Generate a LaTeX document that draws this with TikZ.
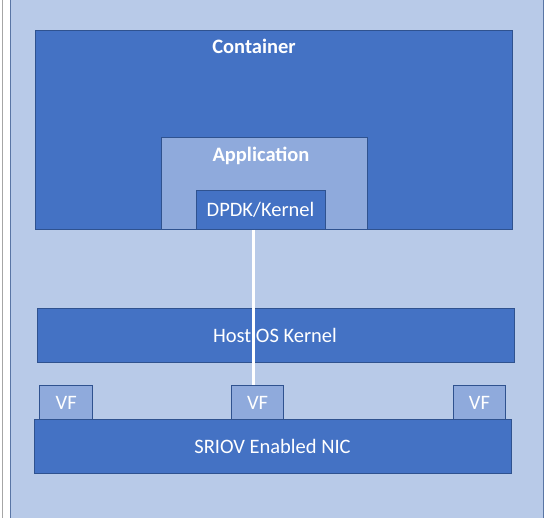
\documentclass[tikz,border=0pt]{standalone}
\usepackage{fontspec}
\setmainfont{Carlito}
\definecolor{bglight}{HTML}{B8CAE8}
\definecolor{darkfill}{HTML}{4472C4}
\definecolor{midfill}{HTML}{8FAADC}
\definecolor{edgeblue}{HTML}{2F528F}
\begin{document}
\begin{tikzpicture}[x=1pt,y=-1pt,
  darkbox/.style={draw=edgeblue, line width=0.9pt, fill=darkfill, inner sep=0pt, anchor=north west},
  midbox/.style={draw=edgeblue, line width=0.9pt, fill=midfill, inner sep=0pt, anchor=north west},
  boldtext/.style={text=white, font=\fontsize{20.5}{24}\selectfont\bfseries, inner sep=0pt, anchor=base},
  plaintext/.style={text=white, font=\fontsize{20.5}{24}\selectfont, inner sep=0pt, anchor=base},
  link/.style={draw=white, line width=3pt}]
\useasboundingbox (0,0) rectangle (550,518);
\fill[white] (0,0) rectangle (550,518);
\draw[gray!70, line width=0.8pt] (2,0) -- (2,518);
\node[draw=edgeblue!80, line width=0.8pt, fill=bglight, inner sep=0pt, anchor=north west,
  minimum width=533.5, minimum height=520] (bg) at (9.5,-1) {};
% container
\node[darkbox, minimum width=477, minimum height=199] (container) at (35,30) {};
\node[boldtext] (containerlabel) at (254,54) {Container};
\node[midbox, minimum width=206, minimum height=92] (app) at (161,137) {};
\node[boldtext] (applabel) at (261,162) {Application};
\node[darkbox, minimum width=129, minimum height=39] (dpdk) at (196,190) {};
\node[plaintext] (dpdklabel) at (260.5,217) {DPDK/Kernel};
% host OS
\node[darkbox, minimum width=476.7, minimum height=53.4] (host) at (37,308.3) {};
\node[plaintext] (hostlabel) at (275,342.5) {Host OS Kernel};
% VFs
\node[midbox, minimum width=53, minimum height=34] (vf1) at (39.3,385.3) {};
\node[midbox, minimum width=52.3, minimum height=34] (vf2) at (231,385.3) {};
\node[midbox, minimum width=52.6, minimum height=34] (vf3) at (452.7,385.3) {};
\node[plaintext] (vf1label) at (vf1.center |- 0,409.5) {VF};
\node[plaintext] (vf2label) at (vf2.center |- 0,409.5) {VF};
\node[plaintext] (vf3label) at (vf3.center |- 0,409.5) {VF};
% NIC
\node[darkbox, minimum width=477, minimum height=54] (nic) at (34,419.3) {};
\node[plaintext] (niclabel) at (272.5,453.3) {SRIOV Enabled NIC};
% link
\coordinate (linex) at (253.3,0);
\draw[link] (dpdk.south -| linex) -- (vf2.north -| linex);
\end{tikzpicture}
\end{document}
